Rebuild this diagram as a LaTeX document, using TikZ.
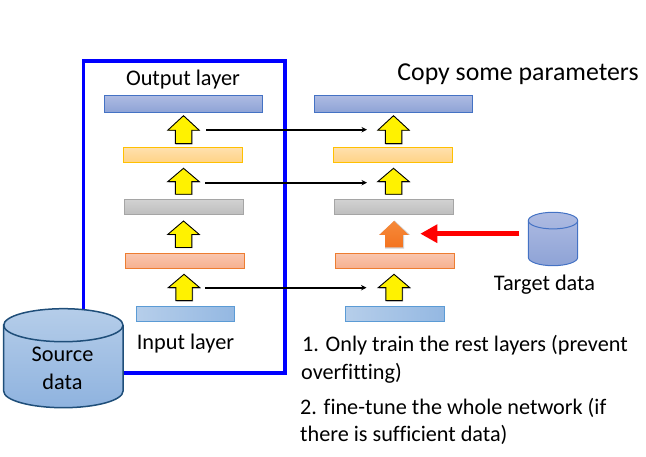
\documentclass[tikz,border=0pt]{standalone}
\usepackage{fontspec}
\setmainfont[Ligatures=NoCommon]{Carlito}
\usetikzlibrary{arrows.meta}
\definecolor{barBlueA}{HTML}{AEBBE2}\definecolor{barBlueB}{HTML}{8EA3D6}\definecolor{barBlueL}{HTML}{4472C4}
\definecolor{barGoldA}{HTML}{FFE0AE}\definecolor{barGoldB}{HTML}{FFD386}\definecolor{barGoldL}{HTML}{FFC000}
\definecolor{barGreyA}{HTML}{D2D2D2}\definecolor{barGreyB}{HTML}{BEBEBE}\definecolor{barGreyL}{HTML}{A5A5A5}
\definecolor{barSalA}{HTML}{F9C6AE}\definecolor{barSalB}{HTML}{F6B08F}\definecolor{barSalL}{HTML}{ED7D31}
\definecolor{barSkyA}{HTML}{B6CEEA}\definecolor{barSkyB}{HTML}{94B8E2}\definecolor{barSkyL}{HTML}{5B9BD5}
\definecolor{srcA}{HTML}{B5CDE9}\definecolor{srcB}{HTML}{8FB3DF}\definecolor{srcL}{HTML}{1F4E79}
\definecolor{orangeA}{HTML}{F58A3A}\definecolor{orangeB}{HTML}{F4731F}
\tikzset{
  x=1pt,y=-1pt,
  barbase/.style={line width=1pt,outer sep=0pt,inner sep=0pt},
  barblue/.style={barbase,draw=barBlueL,top color=barBlueA,bottom color=barBlueB},
  bargold/.style={barbase,draw=barGoldL,top color=barGoldA,bottom color=barGoldB},
  bargrey/.style={barbase,draw=barGreyL,top color=barGreyA,bottom color=barGreyB},
  barsal/.style={barbase,draw=barSalL,top color=barSalA,bottom color=barSalB},
  barsky/.style={barbase,draw=barSkyL,left color=barSkyA,right color=barSkyB},
  copyline/.style={draw=black,line width=1.7pt,-{Stealth[length=5.5pt,width=5.5pt]}},
  label/.style={inner sep=0pt,font=\fontsize{22.3}{26}\selectfont,text=black},
  notes/.style={inner sep=0pt,anchor=base west,font=\fontsize{22.2}{26}\selectfont,text=black},
  yellowup/.style={fill=yellow,draw=black,line width=0.9pt,line join=miter},
  shadowup/.style={fill=black!45,draw=none},
  orangeup/.style={top color=orangeA,bottom color=orangeB,draw=none},
  softshadow/.style={fill=black!18,draw=none}
}
% block arrow: cx, apex y, head-base y, base y, half head, half shaft, style
\newcommand{\blockup}[7]{%
  \path[#7] (#1,#2) -- (#1+#5,#3) -- (#1+#6,#3) -- (#1+#6,#4) -- (#1-#6,#4) -- (#1-#6,#3) -- (#1-#5,#3) -- cycle;}
\newcommand{\yellowblock}[4]{%
  \blockup{#1+0.8}{#2+0.6}{#3+0.6}{#4+0.6}{15.8}{8.2}{shadowup}
  \blockup{#1}{#2}{#3}{#4}{15.8}{8.2}{yellowup}}
\begin{document}
\begin{tikzpicture}
\useasboundingbox (0,0) rectangle (646,457);
% frame
\node[draw=blue,line width=3.6pt,inner sep=0pt,outer sep=0pt,minimum width=201.7pt,minimum height=311.7pt,anchor=north west] (frame) at (83.3,61.3) {};
% left bars
\node[barblue,minimum width=158.4pt,minimum height=17pt] (l5) at (183.5,103.8) {};
\node[bargold,minimum width=119.4pt,minimum height=15pt] (l4) at (183,154.8) {};
\node[bargrey,minimum width=119pt,minimum height=15pt] (l3) at (183.8,206.8) {};
\node[barsal,minimum width=119.4pt,minimum height=15.4pt] (l2) at (185,261) {};
\node[barsky,minimum width=98.4pt,minimum height=15.4pt] (l1) at (185.5,314) {};
% right bars
\node[barblue,minimum width=158.4pt,minimum height=17pt] (r5) at (393.3,103.8) {};
\node[bargold,minimum width=119.4pt,minimum height=15pt] (r4) at (392.8,154.8) {};
\node[bargrey,minimum width=119pt,minimum height=15pt] (r3) at (394,206.8) {};
\node[barsal,minimum width=119.4pt,minimum height=15.4pt] (r2) at (395,261) {};
\node[barsky,minimum width=99.4pt,minimum height=15.4pt] (r1) at (395,314) {};
% block arrows
\yellowblock{183.5}{115.7}{130.3}{143.7}
\yellowblock{183.5}{168.3}{181.7}{194.3}
\yellowblock{183.5}{221}{234.5}{247.5}
\yellowblock{184}{274.3}{287.7}{300.7}
\yellowblock{393.5}{115.7}{130.3}{143.7}
\yellowblock{393.5}{168.3}{181.7}{194.3}
\yellowblock{394}{274.3}{287.7}{300.7}
\blockup{394.6}{220.6}{235}{248.6}{15.6}{9.6}{softshadow}
\blockup{394}{221}{235}{247.3}{14.8}{8.8}{orangeup}
% copy connectors
\coordinate (ca1) at (206,129.7); \coordinate (cb1) at (367,129.7);
\coordinate (ca2) at (205,182.7); \coordinate (cb2) at (367,182.7);
\coordinate (ca3) at (205,287.7); \coordinate (cb3) at (366.5,287.7);
\draw[copyline] (ca1) -- (cb1);
\draw[copyline] (ca2) -- (cb2);
\draw[copyline] (ca3) -- (cb3);
% target cylinder
\path[draw=barBlueL,line width=1pt,top color=barBlueA,bottom color=barBlueB]
  (528.3,220.6) -- (528.3,257.4) arc[start angle=180,end angle=360,x radius=24.7,y radius=-8.3]
  -- (577.7,220.6) arc[start angle=0,end angle=180,x radius=24.7,y radius=-8.3] -- cycle;
\draw[barBlueL,line width=1pt] (528.3,220.6) arc[start angle=180,end angle=360,x radius=24.7,y radius=-8.3];
\node[inner sep=0pt,outer sep=0pt,minimum width=49.4pt,minimum height=53.4pt] (target) at (553,239) {};
% red arrow
\coordinate (redtip) at (420.3,233.7);
\draw[red,line width=5.5pt,-{Triangle[length=17pt,width=17.6pt]}] (target.west) ++(-9,-5.3) -- (redtip);
% source cylinder
\path[draw=srcL,line width=1.5pt,top color=srcA,bottom color=srcB]
  (3.7,325.2) -- (3.7,391.2) arc[start angle=180,end angle=360,x radius=59.65,y radius=-16.5]
  -- (123,325.2) arc[start angle=0,end angle=180,x radius=59.65,y radius=-16.5] -- cycle;
\draw[srcL,line width=1.5pt] (3.7,325.2) arc[start angle=180,end angle=360,x radius=59.65,y radius=-16.5];
% labels
\node[label] (outl) at (183,79.5) {Output layer};
\node[label] (inl) at (185.5,343.5) {Input layer};
\node[label] (srcl1) at (62.5,354.5) {Source};
\node[label] (srcl2) at (62.5,381.5) {data};
\node[label] (tgtl) at (544.5,284.5) {Target data};
\node[inner sep=0pt,font=\fontsize{25.8}{30}\selectfont] (copy) at (518,74.5) {Copy some parameters};
\node[notes] (n1) at (302,352) {1. Only train the rest layers (prevent};
\node[notes] (n2) at (301,380) {overfitting)};
\node[notes] (n3) at (300,414) {2. fine-tune the whole network (if};
\node[notes] (n4) at (300,441) {there is sufficient data)};
\end{tikzpicture}
\end{document}
